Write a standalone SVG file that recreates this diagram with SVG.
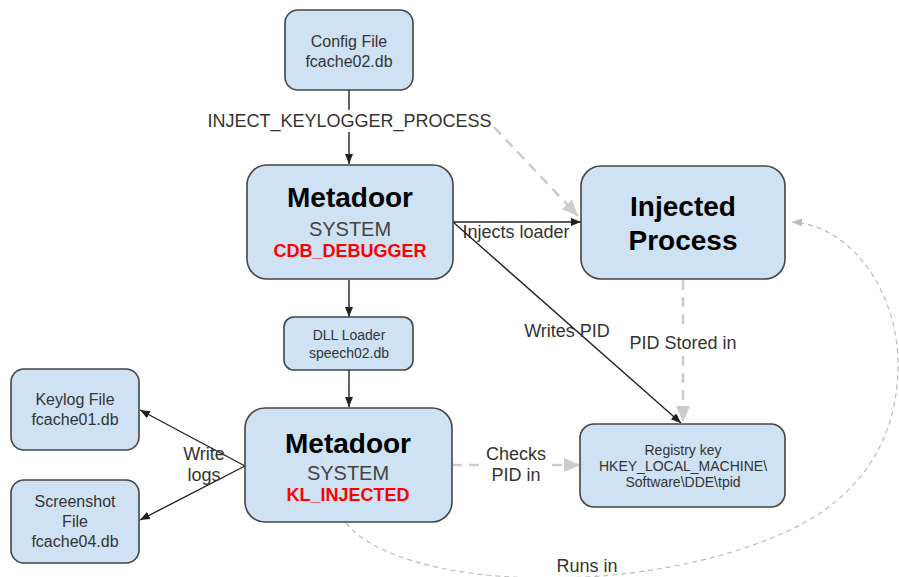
<svg xmlns="http://www.w3.org/2000/svg" width="899" height="577" viewBox="0 0 899 577">
  <style>
    .box { fill: #cfe2f3; stroke: #444444; stroke-width: 1.6; }
    .t { font-family: "Liberation Sans", Arial, sans-serif; text-anchor: middle; fill: #333333; }
    .small { font-size: 16px; }
    .tiny { font-size: 14px; }
    .lbl { font-size: 18px; fill: #333333; }
    .title { font-size: 28px; font-weight: bold; fill: #000000; }
    .sys { font-size: 20px; fill: #434343; }
    .state { font-size: 18px; font-weight: bold; fill: #ff0000; }
    .solid { stroke: #222222; stroke-width: 1.4; fill: none; marker-end: url(#arrowDark); }
    .dash { stroke: #cccccc; stroke-width: 2.5; fill: none; stroke-dasharray: 10 7; marker-end: url(#arrowGray); }
    .thin { stroke: #bbbbbb; stroke-width: 1.2; fill: none; stroke-dasharray: 5 4; marker-end: url(#arrowThin); }
  </style>
  <defs>
    <marker id="arrowDark" markerUnits="userSpaceOnUse" markerWidth="10" markerHeight="8" refX="10" refY="4" orient="auto">
      <path d="M0,0 L10,4 L0,8 z" fill="#222222"/>
    </marker>
    <marker id="arrowGray" markerUnits="userSpaceOnUse" markerWidth="16" markerHeight="14" refX="16" refY="7" orient="auto">
      <path d="M0,0 L16,7 L0,14 z" fill="#cccccc"/>
    </marker>
    <marker id="arrowThin" markerUnits="userSpaceOnUse" markerWidth="10" markerHeight="8" refX="10" refY="4" orient="auto">
      <path d="M0,0 L10,4 L0,8 z" fill="#bbbbbb"/>
    </marker>
  </defs>

  <rect width="899" height="577" fill="#ffffff"/>

  <!-- connectors -->
  <g id="connectors">
    <!-- config file -> CDB debugger -->
    <path class="solid" d="M349,90 L349,164"/>
    <rect x="205" y="110" width="290" height="22" fill="#ffffff"/>
    <text class="t lbl" x="349.5" y="127">INJECT_KEYLOGGER_PROCESS</text>
    <!-- keylogger process injection (dashed) -->
    <path class="dash" d="M494,127 L578,216"/>
    <!-- injects loader -->
    <path class="solid" d="M453,222 L581,222"/>
    <text class="t lbl" x="516" y="238">Injects loader</text>
    <!-- writes PID -->
    <path class="solid" d="M453,222 L681,423"/>
    <text class="t lbl" x="567" y="337">Writes PID</text>
    <!-- PID stored in -->
    <path class="dash" d="M683,280 L683,330 M683,356 L683,422"/>
    <text class="t lbl" x="683" y="349">PID Stored in</text>
    <!-- CDB -> DLL loader -> KL -->
    <path class="solid" d="M349,280 L349,317"/>
    <path class="solid" d="M349,370 L349,407"/>
    <!-- write logs -->
    <path class="solid" d="M245,466 L140,410"/>
    <path class="solid" d="M245,466 L140,520"/>
    <text class="t lbl" x="204" y="460">Write</text>
    <text class="t lbl" x="204" y="481">logs</text>
    <!-- checks PID in -->
    <path d="M452,465 L482,465" stroke="#cccccc" stroke-width="2.5" stroke-dasharray="10 7" fill="none"/>
    <path class="dash" d="M552,465 L580,465"/>
    <text class="t lbl" x="516" y="460">Checks</text>
    <text class="t lbl" x="516" y="481">PID in</text>
    <!-- runs in -->
    <path class="thin" d="M346,523 C400,590 640,600 790,530 C860,497 898,440 898,365 C898,290 850,225 792,222"/>
    <text class="t lbl" x="587" y="572">Runs in</text>
  </g>

  <!-- nodes -->
  <g id="config-file">
    <rect class="box" x="285" y="10" width="128" height="80" rx="13"/>
    <text class="t small" x="349" y="47">Config File</text>
    <text class="t small" x="349" y="67">fcache02.db</text>
  </g>

  <g id="metadoor-cdb">
    <rect class="box" x="247" y="165" width="206" height="114" rx="20"/>
    <text class="t title" x="350" y="207">Metadoor</text>
    <text class="t sys" x="350" y="236">SYSTEM</text>
    <text class="t state" x="350" y="257">CDB_DEBUGGER</text>
  </g>

  <g id="injected-process">
    <rect class="box" x="581" y="166" width="204" height="113" rx="20"/>
    <text class="t title" x="683" y="216">Injected</text>
    <text class="t title" x="683" y="250">Process</text>
  </g>

  <g id="dll-loader">
    <rect class="box" x="284" y="317" width="129" height="53" rx="10"/>
    <text class="t tiny" x="349" y="340">DLL Loader</text>
    <text class="t tiny" x="349" y="358">speech02.db</text>
  </g>

  <g id="keylog-file">
    <rect class="box" x="11" y="369" width="128" height="81" rx="13"/>
    <text class="t small" x="75" y="405">Keylog File</text>
    <text class="t small" x="75" y="425">fcache01.db</text>
  </g>

  <g id="screenshot-file">
    <rect class="box" x="11" y="480" width="128" height="83" rx="13"/>
    <text class="t small" x="75" y="507">Screenshot</text>
    <text class="t small" x="75" y="527">File</text>
    <text class="t small" x="75" y="547">fcache04.db</text>
  </g>

  <g id="metadoor-kl">
    <rect class="box" x="245" y="408" width="207" height="114" rx="20"/>
    <text class="t title" x="348" y="453">Metadoor</text>
    <text class="t sys" x="348" y="480">SYSTEM</text>
    <text class="t state" x="348" y="501">KL_INJECTED</text>
  </g>

  <g id="registry-key">
    <rect class="box" x="580" y="424" width="205" height="83" rx="14"/>
    <text class="t tiny" x="683" y="455">Registry key</text>
    <text class="t tiny" x="683" y="471">HKEY_LOCAL_MACHINE\</text>
    <text class="t tiny" x="683" y="487">Software\DDE\tpid</text>
  </g>
</svg>
